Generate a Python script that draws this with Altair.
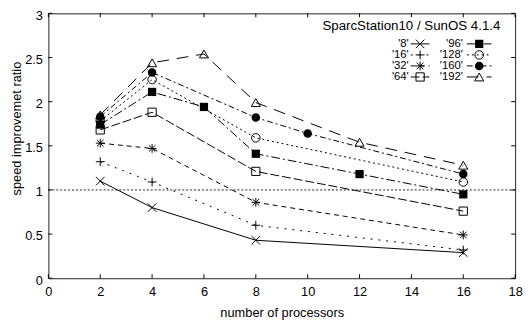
import altair as alt
import pandas as pd

# ---- data ----
series_names = ["'8'", "'16'", "'32'", "'64'", "'96'", "'128'", "'160'", "'192'"]
x_8 = [2, 4, 8, 16]
y_8 = [1.10, 0.80, 0.43, 0.29]
x_16 = [2, 4, 8, 16]
y_16 = [1.32, 1.09, 0.60, 0.32]
x_32 = [2, 4, 8, 16]
y_32 = [1.53, 1.47, 0.86, 0.49]
x_64 = [2, 4, 8, 16]
y_64 = [1.68, 1.88, 1.21, 0.76]
x_96 = [2, 4, 6, 8, 12, 16]
y_96 = [1.74, 2.11, 1.94, 1.41, 1.18, 0.95]
x_128 = [2, 4, 8, 16]
y_128 = [1.78, 2.25, 1.59, 1.09]
x_160 = [2, 4, 8, 10, 16]
y_160 = [1.83, 2.33, 1.82, 1.64, 1.18]
x_192 = [2, 4, 6, 8, 12, 16]
y_192 = [1.85, 2.44, 2.54, 1.99, 1.54, 1.28]

x_ticks = [0, 2, 4, 6, 8, 10, 12, 14, 16, 18]
y_ticks = [0, 0.5, 1, 1.5, 2, 2.5, 3]
ref_value = 1
legend_title = "SparcStation10 / SunOS 4.1.4"
x_title = "number of processors"
y_title = "speed improvemet ratio"

xs = [x_8, x_16, x_32, x_64, x_96, x_128, x_160, x_192]
ys = [y_8, y_16, y_32, y_64, y_96, y_128, y_160, y_192]

# ---- styles ----
W, H = 474, 269
FONT = "Liberation Sans"
FS = 13
LFS = 11.5
X_path = "M-1,-1L1,1M-1,1L1,-1"
P_path = "M-1,0L1,0M0,-1L0,1"
S_path = "M-1,0L1,0M0,-1L0,1M-0.75,-0.75L0.75,0.75M-0.75,0.75L0.75,-0.75"
shapes = [X_path, P_path, S_path, "square", "square", "circle", "circle", "triangle-up"]
filled = [False, False, False, False, True, False, True, False]
sizes = [75, 80, 80, 70, 70, 75, 75, 85]
dashes = [None, [2, 6], [5, 4], [9, 3], [9, 3, 2, 3], [2, 3], [6, 3, 2, 3], [12, 8]]

xscale = alt.Scale(domain=[0, 18], nice=False, zero=False)
yscale = alt.Scale(domain=[0, 3], nice=False, zero=False)
xaxis = alt.Axis(values=x_ticks, ticks=False, tickSize=0, domain=False, grid=False,
                 labelFlush=False, labelPadding=8, title=x_title, titleX=W / 2, titleY=35,
                 titleBaseline="middle", labelExpr="datum.value")
yaxis = alt.Axis(values=y_ticks, ticks=False, tickSize=0, domain=False, grid=False,
                 labelFlush=False, labelPadding=6, labelOffset=2, title=y_title, titleX=-32,
                 titleY=H / 2 - 18, titleBaseline="middle", titleAngle=-90,
                 labelExpr="datum.value")


def X(field="x"):
    return alt.X(f"{field}:Q", scale=xscale, axis=xaxis)


def Y(field="y"):
    return alt.Y(f"{field}:Q", scale=yscale, axis=yaxis)


one = alt.Data(values=[{"k": 1}])
layers = []

# reference line y = 1
layers.append(alt.Chart(one).mark_rule(color="#222", strokeWidth=1, strokeDash=[2, 2])
              .encode(y=alt.datum(ref_value, scale=yscale, axis=yaxis)))

# inward ticks on all four sides
tx = pd.DataFrame({"x": x_ticks})
ty = pd.DataFrame({"y": y_ticks})
TL = 4
layers.append(alt.Chart(tx).mark_rule(color="black").encode(x=X(), y=alt.value(H), y2=alt.value(H - TL)))
layers.append(alt.Chart(tx).mark_rule(color="black").encode(x=X(), y=alt.value(0), y2=alt.value(TL)))
layers.append(alt.Chart(ty).mark_rule(color="black").encode(y=Y(), x=alt.value(0), x2=alt.value(TL)))
layers.append(alt.Chart(ty).mark_rule(color="black").encode(y=Y(), x=alt.value(W), x2=alt.value(W - TL)))

# series
for i, name in enumerate(series_names):
    df = pd.DataFrame({"x": xs[i], "y": ys[i]})
    lk = dict(color="black", strokeWidth=1)
    if dashes[i]:
        lk["strokeDash"] = dashes[i]
    layers.append(alt.Chart(df).mark_line(**lk).encode(x=X(), y=Y()))
    layers.append(alt.Chart(df).mark_point(shape=shapes[i], size=sizes[i], filled=filled[i],
                                           color="black", strokeWidth=1, opacity=1)
                  .encode(x=X(), y=Y()))

# key (legend) drawn inside the plot, gnuplot style
layers.append(alt.Chart(one).mark_text(text=legend_title, align="right", baseline="middle",
                                       font=FONT, fontSize=13.5, color="black")
              .encode(x=alt.value(459), y=alt.value(13)))
row0, row_step = 31, 11.2
cols = [dict(label=366, l1=368, l2=387), dict(label=421, l1=425, l2=450)]
for i, name in enumerate(series_names):
    c = cols[i // 4]
    ry = row0 + (i % 4) * row_step
    layers.append(alt.Chart(one).mark_text(text=name, align="right", baseline="middle",
                                           font=FONT, fontSize=LFS, color="black")
                  .encode(x=alt.value(c["label"]), y=alt.value(ry)))
    rk = dict(color="black", strokeWidth=1)
    if dashes[i]:
        rk["strokeDash"] = dashes[i]
    layers.append(alt.Chart(one).mark_rule(**rk)
                  .encode(x=alt.value(c["l1"]), x2=alt.value(c["l2"]), y=alt.value(ry)))
    layers.append(alt.Chart(one).mark_point(shape=shapes[i], size=sizes[i], filled=filled[i],
                                            color="black", strokeWidth=1, opacity=1)
                  .encode(x=alt.value((c["l1"] + c["l2"]) / 2), y=alt.value(ry)))

chart = alt.layer(*layers).properties(
    width=W, height=H,
    background="white",
    autosize=alt.AutoSizeParams(type="none"),
    padding={"left": 41, "top": 3, "right": 9, "bottom": 42},
).configure_view(stroke="#222", strokeWidth=1).configure_axis(
    labelFont=FONT, labelFontSize=FS, labelColor="black",
    titleFont=FONT, titleFontSize=FS, titleFontWeight="normal", titleColor="black",
)

chart.save("out.html", embed_options={"renderer": "svg", "actions": False})
